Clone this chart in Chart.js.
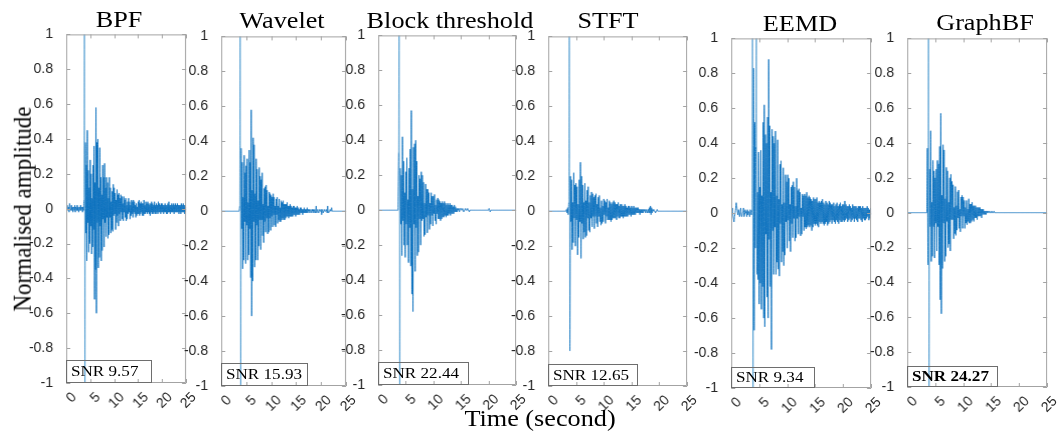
<!DOCTYPE html>
<html>
<head>
<meta charset="utf-8">
<script src="https://cdn.jsdelivr.net/npm/chart.js@4.4.1/dist/chart.umd.min.js"></script>
<style>
  body { margin: 0; background: #fff; }
  #wrap { position: relative; width: 1063px; height: 437px; overflow: hidden; font-family: 'Liberation Serif', serif; color: #000; }
  canvas { position: absolute; }
  .lbl { position: absolute; white-space: nowrap; line-height: 1; }
  .snr { position: absolute; box-sizing: border-box; border: 1px solid #6e6e6e; display: flex; align-items: center; padding-left: 4px; font-size: 15px; }
  .snr span { display: inline-block; transform: scaleX(1.14); transform-origin: left center; }
</style>
</head>
<body>
<div id="wrap"></div>
<script>
// sample step of the traces (seconds)
const dt = 0.1;
const ampScale = 100; // values below are in hundredths of normalised amplitude

const xTickVals = [0, 5, 10, 15, 20, 25];
const xTickLabels = ['0', '5', '10', '15', '20', '25'];
const yTickVals = [-1, -0.8, -0.6, -0.4, -0.2, 0, 0.2, 0.4, 0.6, 0.8, 1];
const yTickLabels = ['-1', '-0.8', '-0.6', '-0.4', '-0.2', '0', '0.2', '0.4', '0.6', '0.8', '1'];

const methods = ['BPF', 'Wavelet', 'Block threshold', 'STFT', 'EEMD', 'GraphBF'];
const snrValues = [9.57, 15.93, 22.44, 12.65, 9.34, 24.27];

const bpfVals = [
  1,-1,2,0,-1,1,-2,3,1,-1, 0,2,-1,1,-2,0,1,-1,2,-2, 1,0,-1,2,-1,1,-2,0,1,-1, 2,-1,0,1,-2,1,-1,
  5,140,-140,38,-14,25,-30,45,-8,22,-25,12,-20,
  28,-10,20,-26,6,-22,25,-12,36,-52,
  15,-35,58,-60,38,-8,40,-34,12,-28,
  35,-10,18,-30,8,-24,25,-6,18,-22,
  26,-8,12,-16,18,-5,15,-17,6,-15,
  18,-5,12,-14,4,-12,10,-13,14,-4,
  12,-3,9,-12,5,-8,11,-4,8,-10,
  9,-3,6,-7,8,-2,7,-6,3,-7,
  7,-2,5,-5,6,-7,2,-6,4,-3,
  6,-2,4,-6,2,-4,5,-3,4,-5,
  5,-2,4,-3,2,-5,3,-4,1,-3,
  4,-3,5,-4,3,-3,4,-2,3,-4,
  3,-4,5,-3,2,-3,4,-2,3,-3,
  4,-2,3,-3,2,-4,3,-2,4,-3,
  3,-3,2,-2,4,-3,2,-3,3,-2,
  2,-3,4,-2,3,-2,2,-3,3,-2,
  3,-2,2,-3,2,-2,3,-2,2,-3,
  2,-3,3,-2,4,-2,2,-3,2,-2,
  3,-2,2,-2,3,-3,2,-2,3,-2,
  2,-2,3,-2,2,-3,2,-2,2,-3,
  3,-2,2,-2,3,-2,2,-3,2,-2,
  1
];

const waveletVals = [
  0,0,0,0,0,0,0,0,0,0, 0,0,0,0,0,0,0,0,0,0, 0,0,0,0,0,0,0,0,0,0, 0,0,0,0,0,0,0,
  3,140,-140,36,-10,28,-33,8,-28,32,-6,22,-30,
  26,-8,30,-28,5,-25,35,-10,28,-38,
  58,-60,12,-40,42,-6,38,-32,10,-28,
  30,-8,24,-28,6,-20,25,-5,20,-22,
  18,-5,22,-14,4,-18,13,-6,14,-12,
  15,-4,12,-13,3,-12,11,-4,10,-11,
  9,-3,8,-9,10,-2,8,-8,3,-9,
  7,-2,8,-7,3,-5,7,-6,2,-6,
  6,-5,5,-4,6,-5,4,-5,4,-4,
  4,-3,5,-3,3,-4,3,-3,4,-3,
  3,-3,2,-3,3,-2,3,-2,2,-3,
  2,-2,3,-2,2,-2,1,-2,2,-1,
  2,-1,1,-2,1,-1,2,-1,1,-1,
  1,-1,2,-1,1,0,1,-1,0,1,
  0,-1,1,0,1,-1,0,1,-1,0,
  3,-1,0,1,0,-1,0,1,0,0,
  1,-2,0,1,-1,0,0,1,0,0,
  0,1,-1,3,0,-1,0,0,1,0,
  0,2,0,0,0,0,0,0,0,0,
  0,0,0,0,0,0,0,0,0,0,
  0,0,0,0,0,0,0,0,0,0,
  0
];

const blockVals = [
  0,0,0,0,0,0,0,0,0,0, 0,0,0,0,0,0,0,0,0,0, 0,0,0,0,0,0,0,0,0,0, 0,0,0,0,0,0,0,
  33,140,-140,24,-8,20,-26,42,-6,28,-20,10,-27,
  22,-8,30,-20,6,-30,24,-10,35,-32,
  57,-48,12,-58,36,-8,38,-35,40,-10,
  28,-26,8,-24,20,-5,18,-20,22,-6,
  20,-5,16,-15,4,-14,15,-4,12,-13,
  12,-3,10,-11,4,-8,10,-3,8,-9,
  8,-2,9,-6,3,-8,6,-2,7,-5,
  6,-5,5,-6,4,-5,5,-4,4,-4,
  5,-3,4,-4,3,-3,4,-3,3,-2,
  4,-3,3,-2,3,-2,2,-2,3,-1,
  2,-1,1,-1,1,0,1,-1,0,1,
  1,0,0,1,0,-1,0,0,1,0,
  0,0,1,0,0,-1,0,0,0,0,
  0,0,0,0,0,0,0,0,0,0,
  0,0,0,0,0,0,0,0,0,0,
  0,0,0,0,0,0,0,0,0,0,
  0,1,0,-1,0,0,0,0,0,0,
  0,0,0,0,0,0,0,0,0,0,
  0,0,0,0,0,0,0,0,0,0,
  0,0,0,0,0,0,0,0,0,0,
  0,0,0,0,0,0,0,0,0,0,
  0
];

const stftVals = [
  0,0,0,0,0,0,0,0,0,0, 0,0,0,0,0,0,0,0,0,0, 0,0,0,0,0,0,0,0,0,0, 0,0,0,
  1,-1,2,-2,5,
  150,-80,20,-6,18,-22,5,-18,22,-4,15,-20,
  16,-5,14,-25,4,-15,18,-6,28,-27,
  20,-7,15,-16,5,-12,16,-15,6,-14,
  12,-4,14,-11,5,-12,9,-4,11,-9,
  10,-3,8,-10,9,-3,10,-7,4,-9,
  8,-3,9,-6,2,-8,6,-7,3,-6,
  7,-2,6,-7,5,-3,7,-5,2,-5,
  6,-5,5,-6,4,-5,5,-4,6,-4,
  5,-4,4,-5,4,-3,5,-4,3,-4,
  4,-3,4,-3,3,-4,3,-3,4,-3,
  3,-3,2,-3,3,-2,3,-2,2,-3,
  3,-2,2,-2,3,-2,2,-2,2,-1,
  2,-1,2,-1,1,-2,1,-1,1,-1,
  1,-1,1,0,1,-1,0,1,-1,0,
  1,-1,2,-1,3,-2,2,-1,1,0,
  1,0,0,-1,0,0,1,0,0,0,
  0,0,0,0,0,0,0,0,0,0,
  0,0,0,0,0,0,0,0,0,0,
  0,0,0,0,0,0,0,0,0,0,
  0,0,0,0,0,0,0,0,0,0,
  0,0,0,0,0,0,0,0,0,0,
  0
];

const eemdVals = [
  2,1,3,-1,-3,-5,-2,0,3,6, 4,1,-1,2,0,-2,1,3,-1,-2, 0,1,3,-2,-1,2,0,1,-2,2, -1,1,0,-2,2,1,-1,2,
  120,-120,83,-67,52,-20,38,120,-35,12,-38,35,
  -52,15,-40,36,-55,10,-42,52,-60,62,
  -65,45,-12,40,-48,55,-60,88,-15,50,
  -42,12,-78,48,-10,44,-35,40,-8,47,
  -35,10,-28,42,-32,8,-36,28,-6,30,
  -28,5,-22,26,-30,6,-24,22,-5,18,
  -20,22,-4,20,-16,5,-22,15,-6,16,
  -14,18,-3,15,-16,4,-14,20,-3,13,
  -12,14,-2,12,-13,3,-12,11,-2,10,
  -10,11,-8,10,-9,12,-8,9,-7,10,
  -8,9,-7,8,-10,7,-8,9,-6,8,
  -7,8,-6,9,-7,6,-8,7,-5,6,
  -6,7,-5,8,-6,6,-7,5,-6,7,
  -5,6,-7,5,-6,7,-5,6,-4,5,
  -6,5,-4,6,-5,4,-6,5,-4,6,
  -5,4,-6,5,-4,6,-5,4,-5,5,
  -4,5,-5,7,-4,5,-3,4,-5,4,
  -4,5,-3,4,-5,3,-4,5,-3,4,
  -5,4,-3,4,-4,3,-5,4,-3,4,
  -3,4,-4,3,-5,4,-3,3,-4,3,
  -4,3,-3,4,-2,3,-4,2,-3,3,
  -1
];

const graphVals = [
  0,0,0,0,0,0,0,0,0,0, 0,0,0,0,0,0,0,0,0,0, 0,0,0,0,0,0,0,0,0,0, 0,0,0,0,0,0,
  37,-30,140,-140,25,-8,47,-28,6,-25,30,-8,24,-26,
  20,-6,25,-22,30,-8,28,-30,38,-50,
  57,-58,10,-32,39,-6,36,-28,8,-25,
  26,-5,24,-20,6,-18,20,-22,22,-4,
  18,-4,16,-15,3,-12,15,-13,4,-10,
  12,-3,13,-9,2,-11,9,-2,10,-9,
  9,-2,7,-9,3,-6,7,-7,2,-5,
  8,-6,5,-6,5,-5,6,-4,4,-5,
  4,-3,4,-3,3,-4,3,-2,3,-2,
  3,-2,2,-3,2,-1,2,-1,1,-1,
  1,-1,1,0,1,0,0,1,0,0,
  0,1,0,0,0,1,0,0,0,0,
  0,0,0,0,0,0,0,0,0,0,
  0,0,0,0,0,0,0,0,0,0,
  0,0,0,0,0,0,0,0,0,0,
  0,0,0,0,0,0,0,0,0,0,
  0,0,0,0,0,0,0,0,0,0,
  0,0,0,0,0,0,0,0,0,0,
  0,0,0,0,0,0,0,0,0,0,
  0,0,0,0,0,0,0,0,0,0,
  0,0,0,0,0,0,0,0,0,0,
  0
];

const traces = [bpfVals, waveletVals, blockVals, stftVals, eemdVals, graphVals];

// plot boxes in page pixels, plus the SNR box size and title centre
const layout = [
  { l: 66,  t: 34, r: 186,  b: 383, sw: 86, sh: 23, tx: 119, ty: 19 },
  { l: 221, t: 36, r: 346,  b: 386, sw: 87, sh: 23, tx: 282, ty: 20 },
  { l: 378, t: 35, r: 516,  b: 385, sw: 91, sh: 23, tx: 450, ty: 20 },
  { l: 548, t: 36, r: 687,  b: 386, sw: 90, sh: 22, tx: 608, ty: 20 },
  { l: 731, t: 38, r: 871,  b: 388, sw: 84, sh: 21, tx: 800, ty: 23 },
  { l: 907, t: 38, r: 1047, b: 387, sw: 91, sh: 21, tx: 985, ty: 22 }
];

const yAxisW = 40, xAxisH = 34, padTop = 10, padRight = 8;
const lineColor = 'rgba(0,108,188,0.85)';
const spikeColor = 'rgba(0,114,189,0.5)';
const wrap = document.getElementById('wrap');

const frame = {
  id: 'frame',
  afterDatasetsDraw(chart) {
    const { ctx, chartArea: a, scales: { x, y } } = chart;
    const tl = 4;
    ctx.save();
    ctx.strokeStyle = '#a3a3a3';
    ctx.lineWidth = 1;
    ctx.beginPath();
    ctx.rect(a.left + 0.5, a.top + 0.5, a.right - a.left - 1, a.bottom - a.top - 1);
    y.ticks.forEach(t => {
      const py = Math.round(y.getPixelForValue(t.value)) + 0.5;
      ctx.moveTo(a.left, py); ctx.lineTo(a.left + tl, py);
      ctx.moveTo(a.right - tl, py); ctx.lineTo(a.right, py);
    });
    x.ticks.forEach(t => {
      const px = Math.round(x.getPixelForValue(t.value)) + 0.5;
      ctx.moveTo(px, a.bottom); ctx.lineTo(px, a.bottom - tl);
      ctx.moveTo(px, a.top); ctx.lineTo(px, a.top + tl);
    });
    ctx.stroke();
    ctx.restore();
  }
};

function addLabel(text, x, y, size, extra) {
  const d = document.createElement('div');
  d.className = 'lbl';
  d.textContent = text;
  d.style.left = x + 'px';
  d.style.top = y + 'px';
  d.style.fontSize = size + 'px';
  d.style.transform = 'translate(-50%,-50%) ' + (extra || 'scaleX(1.14)');
  wrap.appendChild(d);
}

function makeChart(cv, vals) {
  const pts = vals.map((v, i) => ({ x: i * dt, y: v / ampScale }));
  return new Chart(cv, {
    type: 'line',
    data: {
      datasets: [{
        data: pts,
        borderColor: lineColor,
        borderWidth: 1,
        pointRadius: 0,
        // a tiny tension keeps Chart.js off its per-pixel fast path,
        // so every sample swing is stroked
        tension: 0.001,
        fill: false,
        segment: {
          // the clipped off-scale spike is a single thin stroke, drawn lighter
          borderColor: c => (Math.abs(c.p0.parsed.y) > 1 || Math.abs(c.p1.parsed.y) > 1) ? spikeColor : lineColor
        }
      }]
    },
    options: {
      responsive: false,
      maintainAspectRatio: false,
      devicePixelRatio: 1,
      animation: false,
      parsing: false,
      layout: { padding: { top: padTop, right: padRight, left: 0, bottom: 0 } },
      plugins: { legend: { display: false }, tooltip: { enabled: false } },
      scales: {
        x: {
          type: 'linear', min: 0, max: 25,
          grid: { display: false }, border: { display: false },
          afterBuildTicks: s => { s.ticks = xTickVals.map(v => ({ value: v })); },
          afterFit: s => { s.height = xAxisH; },
          ticks: {
            autoSkip: false, minRotation: 45, maxRotation: 45, padding: -2, labelOffset: 8,
            color: '#262626', font: { family: 'Liberation Sans', size: 14 },
            callback: (v, i) => xTickLabels[i]
          }
        },
        y: {
          type: 'linear', min: -1, max: 1,
          grid: { display: false }, border: { display: false },
          afterBuildTicks: s => { s.ticks = yTickVals.map(v => ({ value: v })); },
          afterFit: s => { s.width = yAxisW; },
          ticks: {
            padding: 5, color: '#262626', font: { family: 'Liberation Sans', size: 14 },
            callback: (v, i) => yTickLabels[i]
          }
        }
      }
    },
    plugins: [frame]
  });
}

function sizeCanvas(cv, w, h, left, top) {
  cv.width = w; cv.height = h;
  cv.style.width = w + 'px'; cv.style.height = h + 'px';
  cv.style.left = left + 'px';
  cv.style.top = top + 'px';
}

layout.forEach((p, k) => {
  const pw = p.r - p.l, ph = p.b - p.t;
  const w = yAxisW + pw + padRight;
  const h = padTop + ph + xAxisH;

  // first pass: find how much room the axes take, then size the canvas so the
  // plot box lands where it is in the figure
  const probe = document.createElement('canvas');
  sizeCanvas(probe, w, h, 0, 0);
  wrap.appendChild(probe);
  let ch = makeChart(probe, traces[k]);
  const a = ch.chartArea;
  const eL = a.left, eT = a.top, eR = w - a.right, eB = h - a.bottom;
  ch.destroy();
  probe.remove();

  const cv = document.createElement('canvas');
  sizeCanvas(cv, eL + pw + eR, eT + ph + eB, p.l - eL, p.t - eT);
  wrap.appendChild(cv);
  makeChart(cv, traces[k]);

  addLabel(methods[k], p.tx, p.ty, 23);

  const box = document.createElement('div');
  box.className = 'snr';
  box.style.left = p.l + 'px';
  box.style.top = (p.b - p.sh) + 'px';
  box.style.width = p.sw + 'px';
  box.style.height = p.sh + 'px';
  if (k === 5) box.style.fontWeight = 'bold';
  const sp = document.createElement('span');
  sp.textContent = 'SNR ' + snrValues[k].toFixed(2);
  box.appendChild(sp);
  wrap.appendChild(box);
});

addLabel('Normalised amplitude', 22, 209, 23, 'rotate(-90deg) scaleY(1.14)');
addLabel('Time (second)', 540, 418, 23);
</script>
</body>
</html>
